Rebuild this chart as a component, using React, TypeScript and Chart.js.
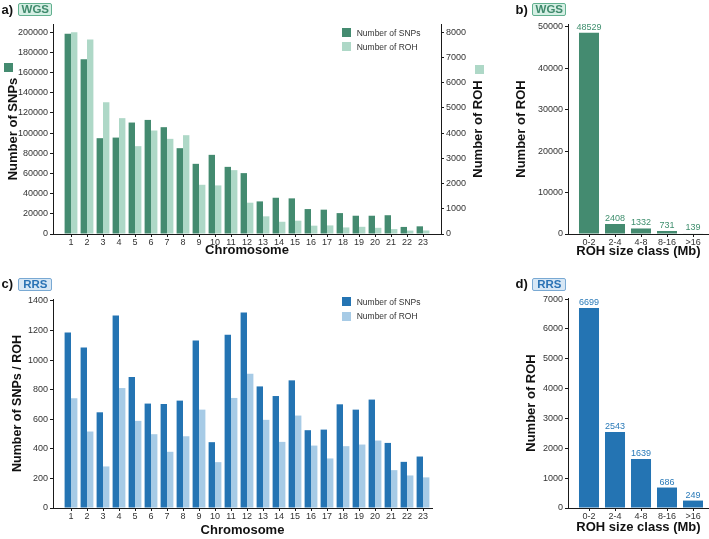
import React, { useEffect, useRef } from 'react';
import { Chart, registerables } from 'chart.js';

Chart.register(...registerables);

const FONT = '"Liberation Sans", Arial, Helvetica, sans-serif';
Chart.defaults.font.family = FONT;

// Per-chromosome counts
const chromosomes = [1, 2, 3, 4, 5, 6, 7, 8, 9, 10, 11, 12, 13, 14, 15, 16, 17, 18, 19, 20, 21, 22, 23];
const wgsSnpCounts = [198400, 173000, 94900, 95500, 110400, 113000, 105800, 85000, 69500, 78400, 66500, 60300, 32300, 35900, 35300, 24700, 24100, 20700, 18100, 18100, 18600, 7000, 7600];
const wgsRohCounts = [7990, 7710, 5220, 4590, 3480, 4100, 3770, 3915, 1950, 1925, 2530, 1240, 700, 485, 527, 330, 340, 260, 285, 245, 195, 135, 140];
const rrsSnpCounts = [1187, 1085, 647, 1301, 885, 706, 703, 726, 1133, 445, 1171, 1321, 822, 757, 863, 526, 530, 701, 665, 733, 440, 312, 348];
const rrsRohCounts = [742, 517, 281, 811, 589, 499, 380, 485, 665, 310, 744, 908, 596, 447, 625, 422, 335, 418, 429, 456, 256, 220, 207];

// ROH counts per size class
const sizeClasses = ['0-2', '2-4', '4-8', '8-16', '>16'];
const wgsRohBySize = [48529, 2408, 1332, 731, 139];
const rrsRohBySize = [6699, 2543, 1639, 686, 249];

// Axis tick values
const wgsSnpTicks = [0, 20000, 40000, 60000, 80000, 100000, 120000, 140000, 160000, 180000, 200000];
const wgsRohTicks = [0, 1000, 2000, 3000, 4000, 5000, 6000, 7000, 8000];
const wgsSizeTicks = [0, 10000, 20000, 30000, 40000, 50000];
const rrsChromTicks = [0, 200, 400, 600, 800, 1000, 1200, 1400];
const rrsSizeTicks = [0, 1000, 2000, 3000, 4000, 5000, 6000, 7000];
const sizeClassIndex = [0, 1, 2, 3, 4];

const WGS_DARK = '#448b70';
const WGS_LIGHT = '#aed8c7';
const RRS_DARK = '#2474b3';
const RRS_LIGHT = '#a7cbe6';
const AXIS = '#1a1a1a';
const TICK_TEXT = '#333333';
const TITLE_TEXT = '#111111';

const fixedTicks = (values: number[]) => (scale: any) => {
  scale.ticks = values.map((value) => ({ value }));
};

const tickMarks = { display: true, drawOnChartArea: false, drawTicks: true, tickLength: 3, tickColor: AXIS, tickWidth: 1, offset: false };
const axisLine = { display: true, color: AXIS, width: 1 };

function valueAxis(o: { position: string; max: number; ticks: number[]; width: number; title?: string; titlePad?: number; titleSize?: number }) {
  return {
    type: 'linear',
    position: o.position,
    min: 0,
    max: o.max,
    bounds: 'data',
    afterBuildTicks: fixedTicks(o.ticks),
    afterFit: (s: any) => { s.width = o.width; },
    grid: { ...tickMarks },
    border: { ...axisLine },
    ticks: { font: { family: FONT, size: 9 }, color: TICK_TEXT, padding: 2, callback: (v: number) => String(v) },
    title: o.title
      ? { display: true, text: o.title, color: TITLE_TEXT, font: { family: FONT, size: o.titleSize ?? 13, weight: 'bold', lineHeight: 1.2 }, padding: { top: o.titlePad ?? 0, bottom: 0 } }
      : { display: false },
  };
}

function indexAxis(o: { min: number; max: number; values: number[]; label: (v: number) => string; height: number; title: string; titlePad: number }) {
  return {
    type: 'linear',
    position: 'bottom',
    min: o.min,
    max: o.max,
    bounds: 'data',
    offset: false,
    afterBuildTicks: fixedTicks(o.values),
    afterFit: (s: any) => { s.height = o.height; },
    grid: { ...tickMarks },
    border: { ...axisLine },
    ticks: { font: { family: FONT, size: 9 }, color: TICK_TEXT, padding: 0, autoSkip: false, maxRotation: 0, callback: (v: number) => o.label(v) },
    title: { display: true, text: o.title, color: TITLE_TEXT, font: { family: FONT, size: 13, weight: 'bold', lineHeight: 1.2 }, padding: { top: 0, bottom: o.titlePad } },
  };
}

// Rotated title for the secondary axis (reads bottom-to-top like the left one)
const sideTitle = {
  id: 'sideTitle',
  afterDraw(chart: any, _args: any, opts: any) {
    if (!opts || !opts.text) return;
    const { ctx, chartArea } = chart;
    ctx.save();
    ctx.translate(opts.x, (chartArea.top + chartArea.bottom) / 2);
    ctx.rotate(-Math.PI / 2);
    ctx.font = `bold 13px ${FONT}`;
    ctx.fillStyle = TITLE_TEXT;
    ctx.textAlign = 'center';
    ctx.textBaseline = 'middle';
    ctx.fillText(opts.text, 0, 0);
    ctx.restore();
  },
};

// Count printed above each bar
const valueLabels = {
  id: 'valueLabels',
  afterDatasetsDraw(chart: any, _args: any, opts: any) {
    if (!opts || !opts.color) return;
    const { ctx } = chart;
    const meta = chart.getDatasetMeta(0);
    const data = chart.data.datasets[0].data;
    ctx.save();
    ctx.font = `9px ${FONT}`;
    ctx.fillStyle = opts.color;
    ctx.textAlign = 'center';
    ctx.textBaseline = 'alphabetic';
    meta.data.forEach((el: any, i: number) => {
      ctx.fillText(String(data[i].y), el.x, el.y - 3);
    });
    ctx.restore();
  },
};

const baseOptions = (padding: any) => ({
  responsive: false,
  animation: false,
  events: [],
  layout: { padding },
});

function wgsChromosomeConfig() {
  return {
    type: 'bar',
    data: {
      datasets: [
        { label: 'Number of SNPs', data: chromosomes.map((c, i) => ({ x: c, y: wgsSnpCounts[i] })), backgroundColor: WGS_DARK, yAxisID: 'y' },
        { label: 'Number of ROH', data: chromosomes.map((c, i) => ({ x: c, y: wgsRohCounts[i] })), backgroundColor: WGS_LIGHT, yAxisID: 'y2' },
      ],
    },
    options: {
      ...baseOptions({ top: 24, left: 0, right: 0, bottom: 0 }),
      datasets: { bar: { categoryPercentage: 0.8, barPercentage: 1 } },
      plugins: { legend: { display: false }, tooltip: { enabled: false }, sideTitle: { text: 'Number of ROH', x: 478.5 } },
      scales: {
        x: indexAxis({ min: -0.125, max: 24.125, values: chromosomes, label: (v) => String(v), height: 26, title: 'Chromosome', titlePad: 2.2 }),
        y: valueAxis({ position: 'left', max: 208000, ticks: wgsSnpTicks, width: 53, title: 'Number of SNPs', titlePad: 5.5 }),
        y2: valueAxis({ position: 'right', max: 8320, ticks: wgsRohTicks, width: 59 }),
      },
    },
    plugins: [sideTitle],
  };
}

function rrsChromosomeConfig() {
  return {
    type: 'bar',
    data: {
      datasets: [
        { label: 'Number of SNPs', data: chromosomes.map((c, i) => ({ x: c, y: rrsSnpCounts[i] })), backgroundColor: RRS_DARK },
        { label: 'Number of ROH', data: chromosomes.map((c, i) => ({ x: c, y: rrsRohCounts[i] })), backgroundColor: RRS_LIGHT },
      ],
    },
    options: {
      ...baseOptions({ top: 34, left: 0, right: 68, bottom: 0 }),
      datasets: { bar: { categoryPercentage: 0.8, barPercentage: 1 } },
      plugins: { legend: { display: false }, tooltip: { enabled: false } },
      scales: {
        x: indexAxis({ min: -0.125, max: 23.5625, values: chromosomes, label: (v) => String(v), height: 31, title: 'Chromosome', titlePad: 1.2 }),
        y: valueAxis({ position: 'left', max: 1413, ticks: rrsChromTicks, width: 53, title: 'Number of SNPs / ROH', titlePad: 10.2, titleSize: 12.5 }),
      },
    },
  };
}

function sizeClassConfig(counts: number[], color: string, labelColor: string, yMax: number, yTicks: number[], top: number, xHeight: number, xTitlePad: number, yTitlePad: number) {
  return {
    type: 'bar',
    data: {
      datasets: [
        { label: 'Number of ROH', data: sizeClassIndex.map((k) => ({ x: k, y: counts[k] })), backgroundColor: color },
      ],
    },
    options: {
      ...baseOptions({ top, left: 0, right: 0, bottom: 0 }),
      datasets: { bar: { categoryPercentage: 0.77, barPercentage: 1 } },
      plugins: { legend: { display: false }, tooltip: { enabled: false }, valueLabels: { color: labelColor } },
      scales: {
        x: indexAxis({ min: -0.8077, max: 4.615, values: sizeClassIndex, label: (v) => sizeClasses[v], height: xHeight, title: 'ROH size class (Mb)', titlePad: xTitlePad }),
        y: valueAxis({ position: 'left', max: yMax, ticks: yTicks, width: 68, title: 'Number of ROH', titlePad: yTitlePad }),
      },
    },
    plugins: [valueLabels],
  };
}

function ChartPanel({ left, top, width, height, makeConfig }: { left: number; top: number; width: number; height: number; makeConfig: () => any }) {
  const ref = useRef<HTMLCanvasElement>(null);
  useEffect(() => {
    const chart = new Chart(ref.current as HTMLCanvasElement, makeConfig());
    return () => chart.destroy();
  }, []);
  return <canvas ref={ref} width={width} height={height} style={{ position: 'absolute', left, top, width, height }} />;
}

function PanelTag({ left, top, letter, name, color, bg, border }: { left: number; top: number; letter: string; name: string; color: string; bg: string; border: string }) {
  return (
    <>
      <div style={{ position: 'absolute', left, top, font: `bold 13px ${FONT}`, lineHeight: '14px', color: '#111' }}>{letter}</div>
      <div
        style={{
          position: 'absolute', left: left + 16.8, top: top + 0.5, width: 34, height: 13, boxSizing: 'border-box',
          border: `1px solid ${border}`, borderRadius: 2, background: bg, color,
          font: `bold 11.5px ${FONT}`, lineHeight: '11px', textAlign: 'center',
        }}
      >
        {name}
      </div>
    </>
  );
}

function LegendRow({ left, top, color, text }: { left: number; top: number; color: string; text: string }) {
  return (
    <>
      <div style={{ position: 'absolute', left, top, width: 9, height: 9, background: color }} />
      <div style={{ position: 'absolute', left: left + 15, top: top - 0.5, font: `8.5px ${FONT}`, lineHeight: '10px', color: TICK_TEXT, whiteSpace: 'nowrap' }}>{text}</div>
    </>
  );
}

export default function App() {
  return (
    <div style={{ position: 'absolute', left: 0, top: 0, width: 709, height: 539, background: '#ffffff', overflow: 'hidden', fontFamily: FONT }}>
      <ChartPanel left={0} top={0} width={500} height={260} makeConfig={wgsChromosomeConfig} />
      <ChartPanel
        left={500} top={0} width={209} height={260}
        makeConfig={() => sizeClassConfig(wgsRohBySize, WGS_DARK, '#3f8f6e', 50650, wgsSizeTicks, 24, 26, 1.2, 13.2)}
      />
      <ChartPanel left={0} top={265} width={500} height={274} makeConfig={rrsChromosomeConfig} />
      <ChartPanel
        left={500} top={265} width={209} height={274}
        makeConfig={() => sizeClassConfig(rrsRohBySize, RRS_DARK, '#2a7ab8', 7035, rrsSizeTicks, 33, 31, 3.7, 23.2)}
      />

      <PanelTag left={1.5} top={2.5} letter="a)" name="WGS" color="#3f8a6c" bg="#d5efe4" border="#62b08f" />
      <PanelTag left={515.5} top={2.5} letter="b)" name="WGS" color="#3f8a6c" bg="#d5efe4" border="#62b08f" />
      <PanelTag left={1.5} top={277} letter="c)" name="RRS" color="#2b73b5" bg="#d7e7f5" border="#79a9d3" />
      <PanelTag left={515.5} top={277} letter="d)" name="RRS" color="#2b73b5" bg="#d7e7f5" border="#79a9d3" />

      {/* series keys beside the WGS axis titles */}
      <div style={{ position: 'absolute', left: 3.5, top: 62.5, width: 9, height: 9, background: WGS_DARK }} />
      <div style={{ position: 'absolute', left: 475, top: 65, width: 8.5, height: 8.5, background: WGS_LIGHT }} />

      <LegendRow left={341.7} top={28.3} color={WGS_DARK} text="Number of SNPs" />
      <LegendRow left={341.7} top={42.3} color={WGS_LIGHT} text="Number of ROH" />
      <LegendRow left={341.7} top={297.3} color={RRS_DARK} text="Number of SNPs" />
      <LegendRow left={341.7} top={311.7} color={RRS_LIGHT} text="Number of ROH" />
    </div>
  );
}
